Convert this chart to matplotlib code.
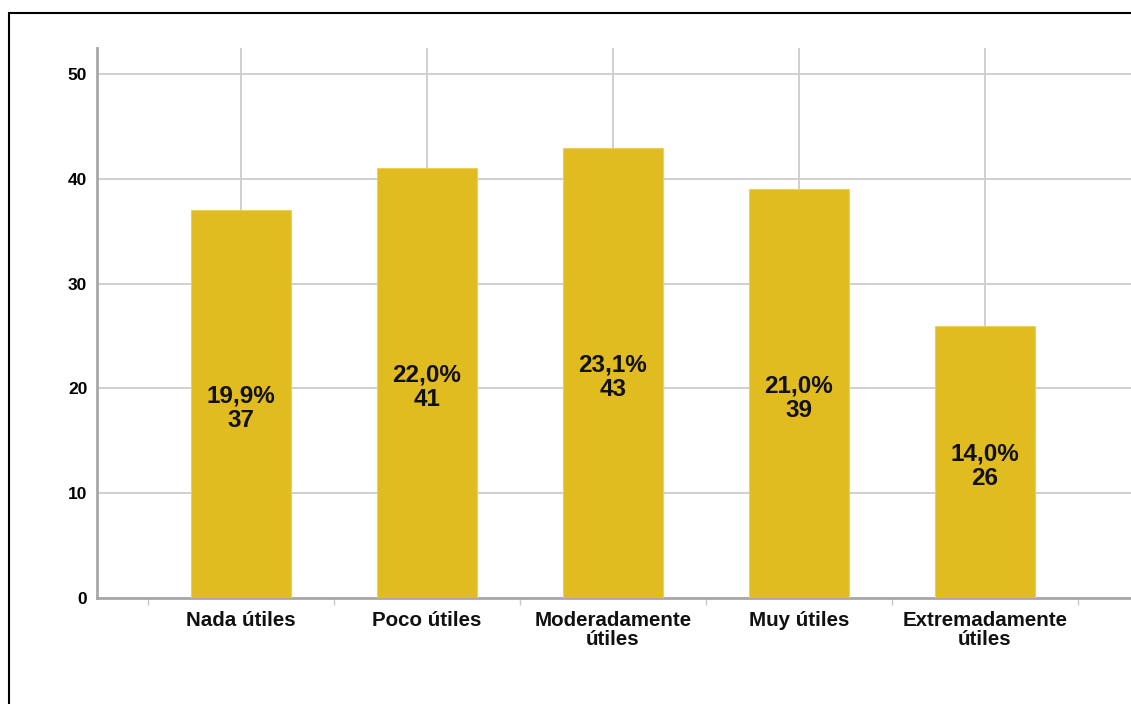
import matplotlib.pyplot as plt
from matplotlib.patches import Rectangle

categories = ['Nada útiles', 'Poco útiles', 'Moderadamente\nútiles', 'Muy útiles', 'Extremadamente\nútiles']
counts = [37, 41, 43, 39, 26]
percents = ['19,9%', '22,0%', '23,1%', '21,0%', '14,0%']
y_ticks = [0, 10, 20, 30, 40, 50]

bar_color = '#E1BC20'
grid_color = '#CFCFCF'
spine_color = '#A8A8A8'

plt.rcParams['font.family'] = ['Liberation Sans', 'DejaVu Sans']

fig = plt.figure(figsize=(11.31, 7.04), dpi=100)
fig.patches.append(Rectangle((9 / 1131, -0.1), 1.2, (704 - 13) / 704 + 0.1,
                             transform=fig.transFigure, fill=False,
                             edgecolor='black', linewidth=1.5))

ax = fig.add_axes([97 / 1131, 106 / 704, 1 - 97 / 1131, 550 / 704])

x = list(range(len(categories)))
ax.bar(x, counts, width=100 / 186, color=bar_color, edgecolor='#EBCF5A',
       linewidth=0.8, zorder=3)

# labels inside the bars, centred a bit below half height
for xi, c, p in zip(x, counts, percents):
    ax.annotate(p + '\n' + str(c), xy=(xi, c / 2), xytext=(0, -3),
                textcoords='offset points', ha='center', va='center',
                fontsize=17.5, fontweight='bold', color='#111111',
                linespacing=1.08, zorder=4)

ax.set_xlim(-0.774, 4.785)
ax.set_ylim(0, 52.5)

ax.set_yticks(y_ticks)
ax.set_yticklabels([str(v) for v in y_ticks], fontsize=12.5, fontweight='bold')
ax.tick_params(axis='y', length=0, pad=7)

ax.set_xticks(x)
ax.set_xticklabels(categories, fontsize=14.8, fontweight='bold', color='#111111',
                   linespacing=1.02)
ax.tick_params(axis='x', which='major', length=0, pad=9.5)
ax.set_xticks([i - 0.5 for i in range(len(categories) + 1)], minor=True)
ax.tick_params(axis='x', which='minor', length=5, width=1, color='#C8C8C8',
               direction='out')

ax.grid(True, which='major', color=grid_color, linewidth=1.4, zorder=0)
ax.set_axisbelow(True)

for side in ['top', 'right']:
    ax.spines[side].set_visible(False)
for side in ['left', 'bottom']:
    ax.spines[side].set_color(spine_color)
    ax.spines[side].set_linewidth(2)

fig.savefig('out.png', dpi=100)
